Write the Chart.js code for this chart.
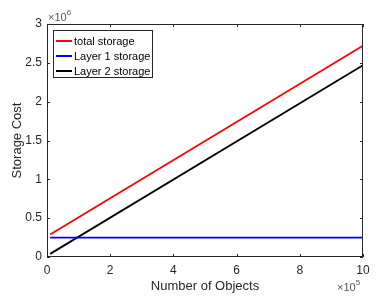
<!DOCTYPE html>
<html>
<head>
<meta charset="utf-8">
<script src="https://cdn.jsdelivr.net/npm/chart.js@4"></script>
<style>
  html, body { margin: 0; padding: 0; background: #fff; }
  #wrap { width: 381px; height: 304px; }
</style>
</head>
<body>
<div id="wrap"><canvas id="c" width="381" height="304"></canvas></div>
<script>
// values
const objects = [10000, 1000000];
const totalStorage = [290000, 2720000];
const layer1Storage = [250000, 250000];
const layer2Storage = [40000, 2470000];
const xTicks = [0, 200000, 400000, 600000, 800000, 1000000];
const yTicks = [0, 500000, 1000000, 1500000, 2000000, 2500000, 3000000];

const FONT = '"Liberation Sans", Arial, sans-serif';
const INK = '#262626';

const framePlugin = {
  id: 'frame',
  afterDraw(chart) {
    const { ctx, chartArea: a, scales } = chart;
    ctx.save();
    ctx.strokeStyle = INK;
    ctx.lineWidth = 1;
    ctx.strokeRect(a.left + 0.5, a.top + 0.5, a.right - a.left - 1, a.bottom - a.top - 1);
    // inward ticks on all four sides
    ctx.beginPath();
    xTicks.forEach(v => {
      const x = Math.round(scales.x.getPixelForValue(v)) + 0.5;
      ctx.moveTo(x, a.bottom); ctx.lineTo(x, a.bottom - 3);
      ctx.moveTo(x, a.top); ctx.lineTo(x, a.top + 3);
    });
    yTicks.forEach(v => {
      const y = Math.round(scales.y.getPixelForValue(v)) + 0.5;
      ctx.moveTo(a.left, y); ctx.lineTo(a.left + 3, y);
      ctx.moveTo(a.right, y); ctx.lineTo(a.right - 3, y);
    });
    ctx.stroke();

    // axis titles
    ctx.fillStyle = INK;
    ctx.font = '13px ' + FONT;
    ctx.textAlign = 'center';
    ctx.textBaseline = 'middle';
    ctx.fillText('Number of Objects', (a.left + a.right) / 2, 286);
    ctx.save();
    ctx.translate(17, (a.top + a.bottom) / 2);
    ctx.rotate(-Math.PI / 2);
    ctx.fillText('Storage Cost', 0, 0);
    ctx.restore();

    // exponent labels
    const expo = (x, y, p) => {
      ctx.textAlign = 'left';
      ctx.font = '11px ' + FONT;
      ctx.fillText('\u00d710', x, y);
      const w = ctx.measureText('\u00d710').width;
      ctx.font = '8px ' + FONT;
      ctx.fillText(p, x + w, y - 5);
    };
    ctx.fillStyle = '#555';
    expo(48, 18, '6');
    expo(337, 288, '5');

    // legend
    const lx = 53, ly = 30, lw = 99, lh = 47;
    ctx.fillStyle = '#fff';
    ctx.fillRect(lx, ly, lw, lh);
    ctx.strokeStyle = INK;
    ctx.strokeRect(lx + 0.5, ly + 0.5, lw, lh);
    ctx.font = '11px ' + FONT;
    ctx.textAlign = 'left';
    ctx.textBaseline = 'middle';
    chart.data.datasets.forEach((ds, i) => {
      const y = ly + 11 + i * 15;
      ctx.strokeStyle = ds.borderColor;
      ctx.lineWidth = 2;
      ctx.beginPath();
      ctx.moveTo(lx + 3, y); ctx.lineTo(lx + 19, y);
      ctx.stroke();
      ctx.fillStyle = '#000';
      ctx.fillText(ds.label, lx + 21, y + 1);
    });
    ctx.restore();
  }
};

new Chart(document.getElementById('c'), {
  type: 'line',
  data: {
    datasets: [
      { label: 'total storage', data: objects.map((x, i) => ({ x, y: totalStorage[i] })), borderColor: '#ff0000' },
      { label: 'Layer 1 storage', data: objects.map((x, i) => ({ x, y: layer1Storage[i] })), borderColor: '#0000ff' },
      { label: 'Layer 2 storage', data: objects.map((x, i) => ({ x, y: layer2Storage[i] })), borderColor: '#000000' }
    ]
  },
  options: {
    responsive: false,
    animation: false,
    devicePixelRatio: 1,
    layout: { padding: { top: 24, right: 18, left: 0, bottom: 0 } },
    elements: { point: { radius: 0 }, line: { borderWidth: 1.8, tension: 0 } },
    plugins: { legend: { display: false }, tooltip: { enabled: false } },
    scales: {
      x: {
        type: 'linear', min: 0, max: 1000000,
        afterFit: s => { s.height = 47; },
        afterBuildTicks: s => { s.ticks = xTicks.map(v => ({ value: v })); },
        grid: { display: false, drawTicks: false },
        border: { display: false },
        ticks: { padding: 6, color: INK, font: { family: FONT, size: 12 }, callback: v => v / 100000 }
      },
      y: {
        type: 'linear', min: 0, max: 3000000,
        afterFit: s => { s.width = 47; },
        afterBuildTicks: s => { s.ticks = yTicks.map(v => ({ value: v })); },
        grid: { display: false, drawTicks: false },
        border: { display: false },
        ticks: { padding: 5, color: INK, font: { family: FONT, size: 12 }, callback: v => v / 1000000 }
      }
    }
  },
  plugins: [framePlugin]
});
</script>
</body>
</html>
